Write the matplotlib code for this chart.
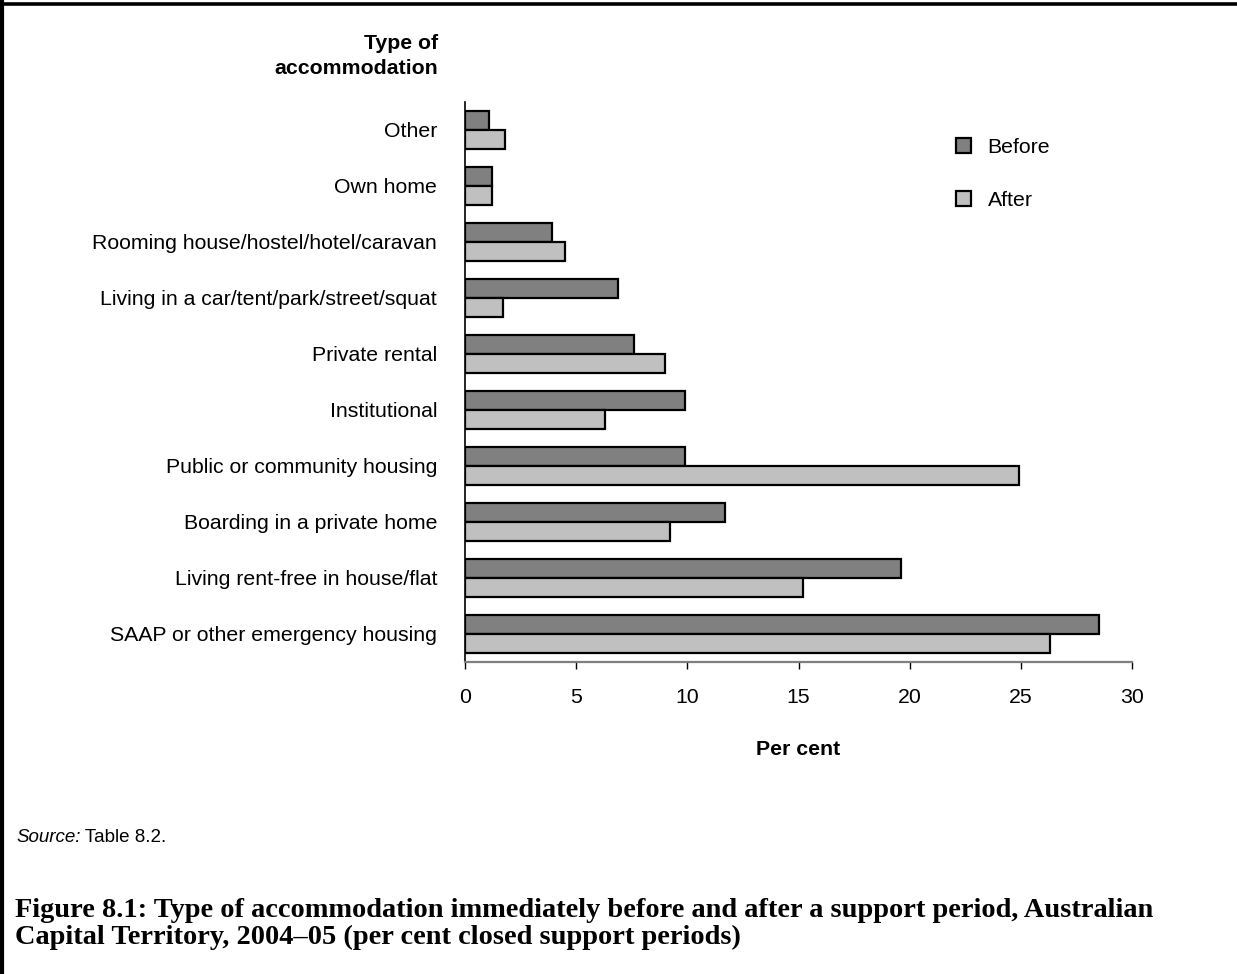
import matplotlib
matplotlib.use("Agg")
import matplotlib.pyplot as plt
import numpy as np
from matplotlib.lines import Line2D
from matplotlib.patches import Patch
from matplotlib.text import Annotation

categories = [
    "SAAP or other emergency housing",
    "Living rent-free in house/flat",
    "Boarding in a private home",
    "Public or community housing",
    "Institutional",
    "Private rental",
    "Living in a car/tent/park/street/squat",
    "Rooming house/hostel/hotel/caravan",
    "Own home",
    "Other",
]
before = [28.5, 19.6, 11.7, 9.9, 9.9, 7.6, 6.9, 3.9, 1.2, 1.1]
after = [26.3, 15.2, 9.2, 24.9, 6.3, 9.0, 1.7, 4.5, 1.2, 1.8]
xticks = [0, 5, 10, 15, 20, 25, 30]
series_names = ["Before", "After"]

plt.rcParams["font.family"] = ["Liberation Sans", "DejaVu Sans"]

W, H = 1237, 974
fig = plt.figure(figsize=(W / 100, H / 100), dpi=100)
fig.patch.set_facecolor("white")

left, right, top, bottom = 465, 1132, 101.7, 661.7
ax = fig.add_axes([left / W, 1 - bottom / H, (right - left) / W, (bottom - top) / H])

y = np.arange(len(categories))
bh = 0.34
c_before = "#808080"
c_after = "#c0c0c0"
ax.barh(y + bh / 2, before, height=bh, color=c_before, edgecolor="black", linewidth=1.6)
ax.barh(y - bh / 2, after, height=bh, color=c_after, edgecolor="black", linewidth=1.6)

ax.set_xlim(0, 30)
ax.set_ylim(-0.5, 9.5)
ax.set_xticks(xticks)
ax.set_xticklabels([str(t) for t in xticks])
ax.set_yticks(y)
ax.set_yticklabels(categories)
ax.tick_params(axis="x", length=5, width=1, direction="out", pad=14, labelsize=15.3, color="black")
ax.tick_params(axis="y", length=0, pad=20, labelsize=15.3)
for s in ["top", "right"]:
    ax.spines[s].set_visible(False)
ax.spines["left"].set_linewidth(1.2)
ax.spines["bottom"].set_linewidth(1.6)
ax.spines["bottom"].set_color("#7f7f7f")

ax.set_xlabel("Per cent", fontsize=15.3, fontweight="bold", labelpad=24)

fig.text(438 / W, 1 - 56 / H, "Type of\naccommodation", ha="right", va="center",
         fontsize=15.3, fontweight="bold", linespacing=1.4)

handles = [Patch(facecolor=c_before, edgecolor="black", linewidth=1.6),
           Patch(facecolor=c_after, edgecolor="black", linewidth=1.6)]
fig.legend(handles, series_names, loc="center left", bbox_to_anchor=(937 / W, 1 - 174 / H),
           frameon=False, fontsize=15.3, handlelength=0.68, handleheight=0.68,
           handletextpad=0.8, labelspacing=1.6)

src = fig.text(16 / W, 1 - 842 / H, "Source:", style="italic", fontsize=13.5, ha="left", va="baseline")
fig.add_artist(Annotation(" Table 8.2.", xy=(1, 0), xycoords=src,
                          fontsize=13.5, ha="left", va="bottom"))

fig.text(15 / W, 1 - 924 / H,
         "Figure 8.1: Type of accommodation immediately before and after a support period, Australian\n"
         "Capital Territory, 2004\u201305 (per cent closed support periods)",
         family=["Liberation Serif", "DejaVu Serif"], fontweight="bold", fontsize=20.4,
         ha="left", va="center", linespacing=1.05)

fig.add_artist(Line2D([0, 1], [1 - 3.5 / H, 1 - 3.5 / H], transform=fig.transFigure, color="black", linewidth=2.6))
fig.add_artist(Line2D([1.8 / W, 1.8 / W], [0, 1], transform=fig.transFigure, color="black", linewidth=3))

fig.savefig("out.png", dpi=100, facecolor="white")
